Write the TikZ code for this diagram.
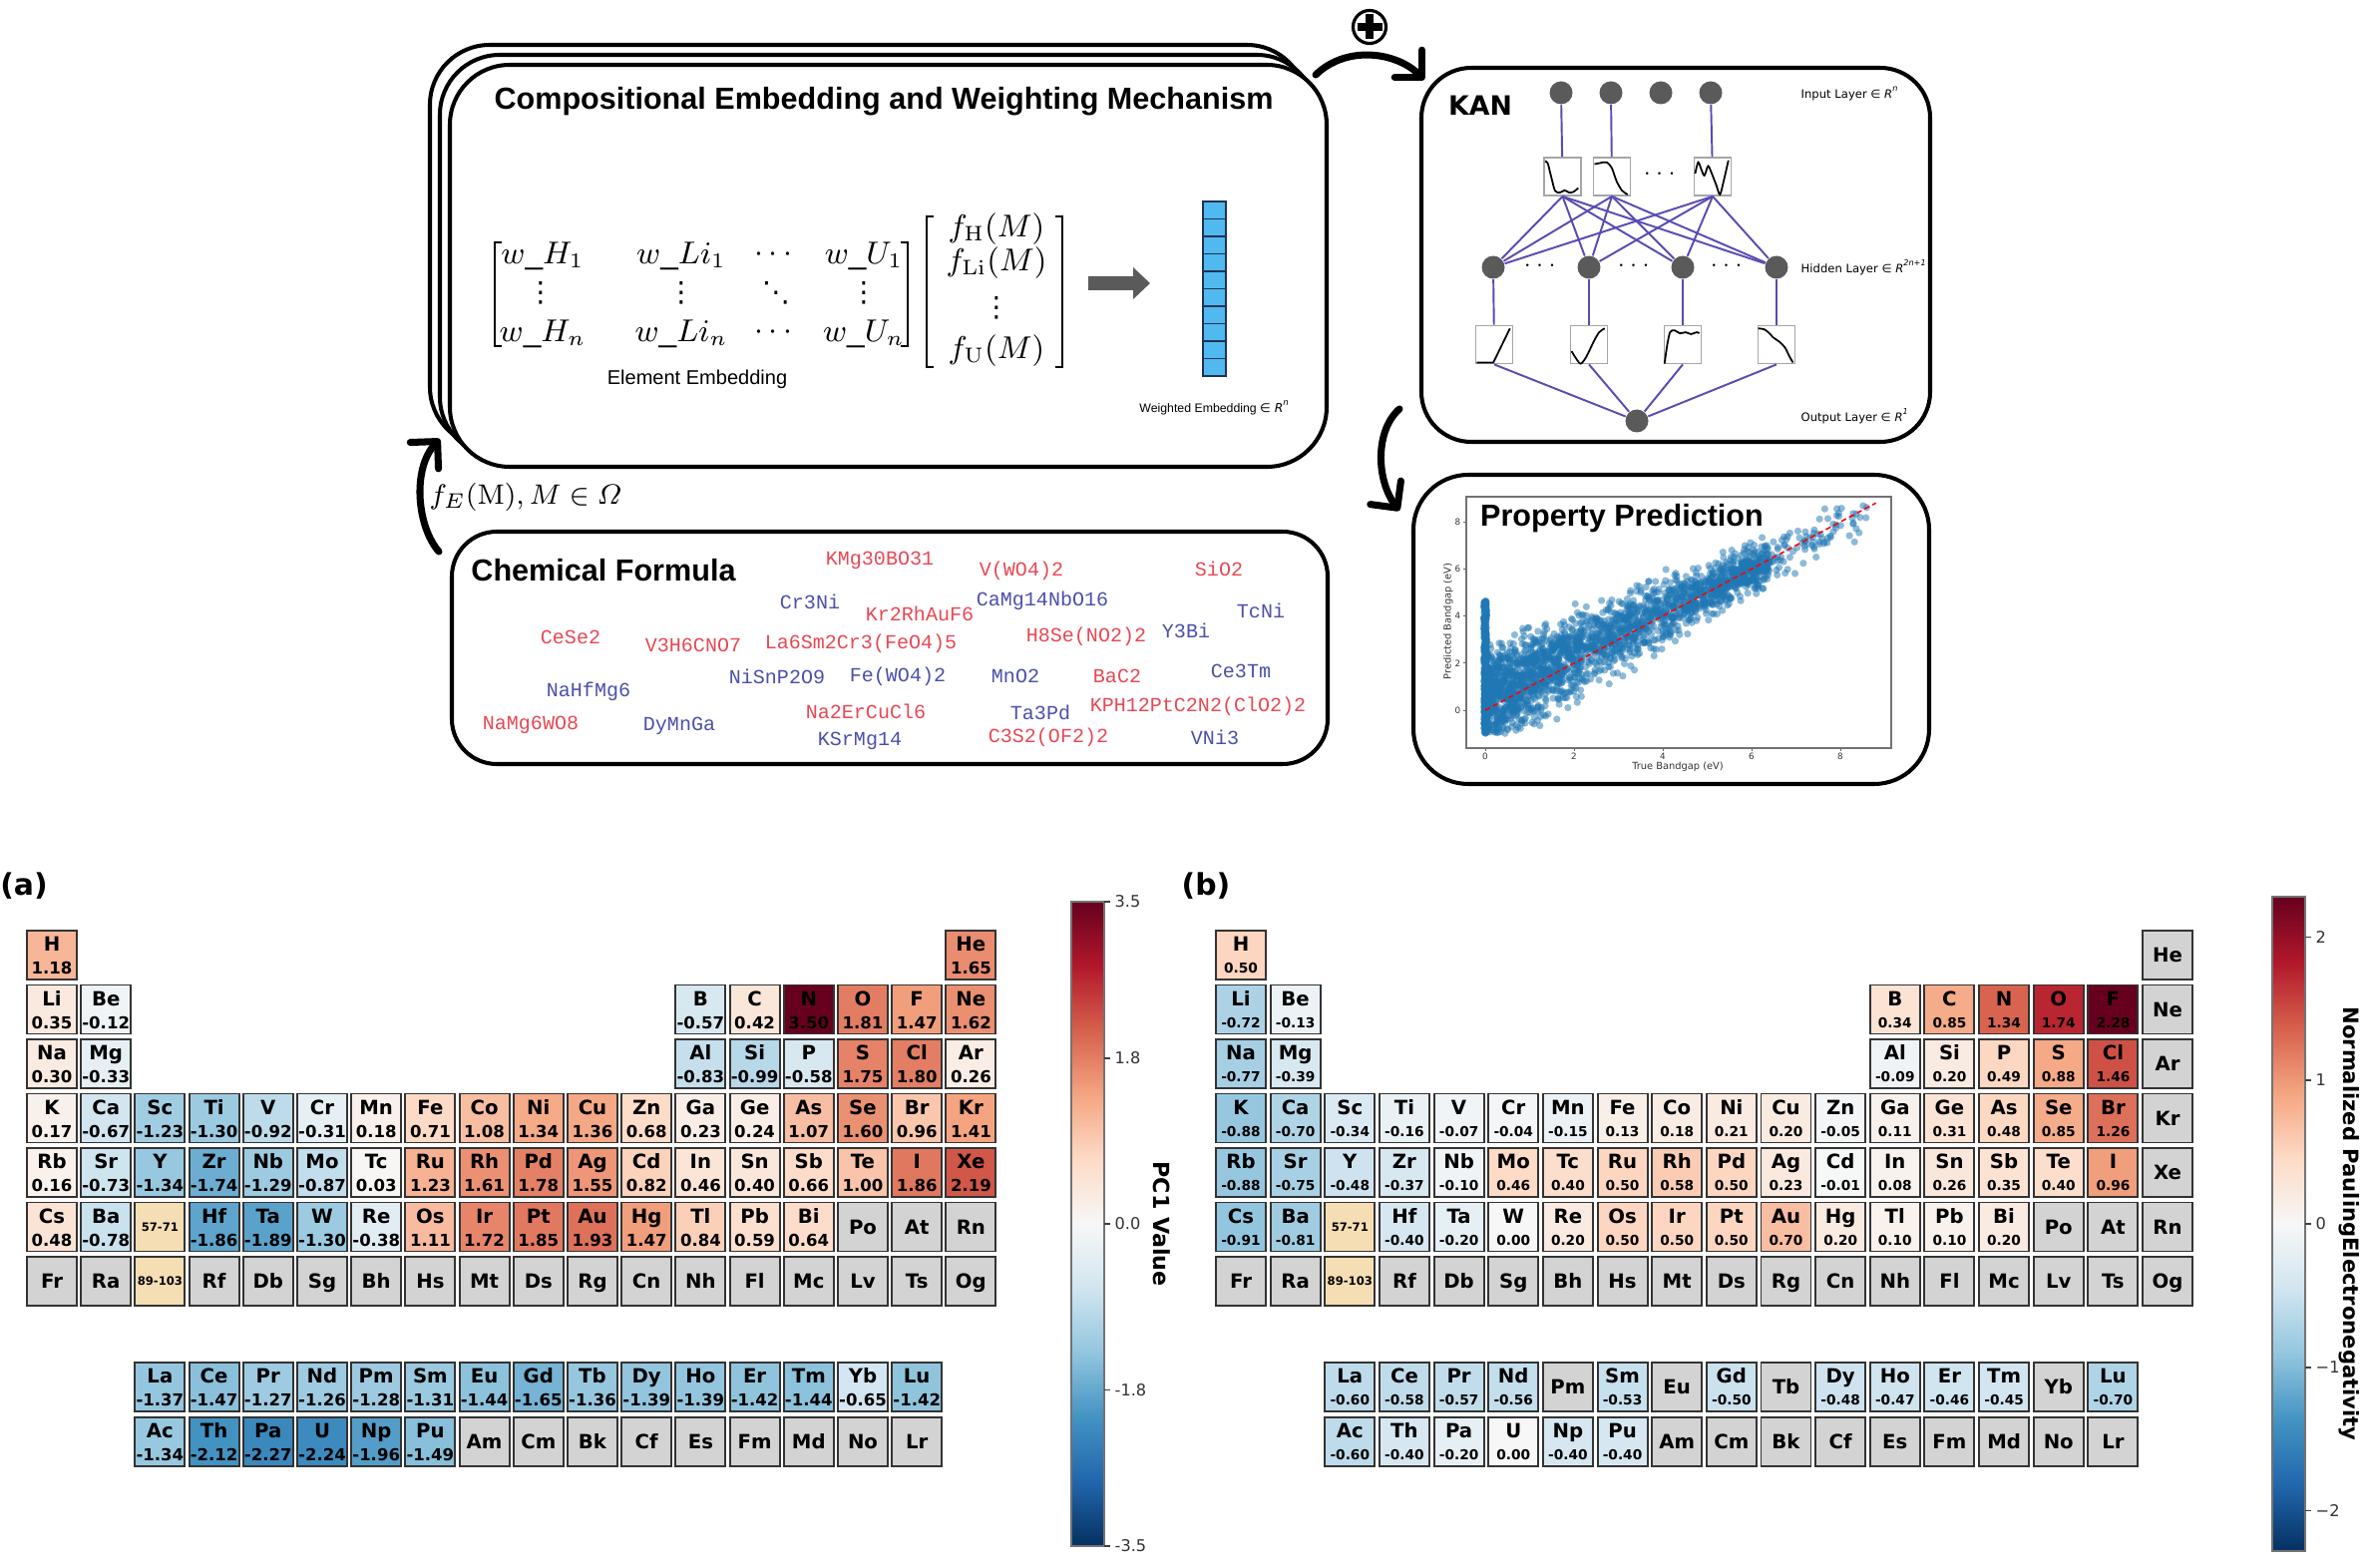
\documentclass[tikz,border=0pt]{standalone}
\usepackage{amsmath}
\usepackage[no-math]{fontspec}
\setmainfont{Liberation Sans}
\newfontfamily\dvs{DejaVu Sans}
\newfontfamily\lmono{Liberation Mono}
\usetikzlibrary{arrows.meta}

\definecolor{rb0}{HTML}{053061}
\definecolor{rb1}{HTML}{2166AC}
\definecolor{rb2}{HTML}{4393C3}
\definecolor{rb3}{HTML}{92C5DE}
\definecolor{rb4}{HTML}{D1E5F0}
\definecolor{rb5}{HTML}{F7F7F7}
\definecolor{rb6}{HTML}{FDDBC7}
\definecolor{rb7}{HTML}{F4A582}
\definecolor{rb8}{HTML}{D6604D}
\definecolor{rb9}{HTML}{B2182B}
\definecolor{rb10}{HTML}{67001F}
\definecolor{kanpurple}{RGB}{88,76,180}
\definecolor{kangray}{RGB}{90,90,90}
\definecolor{chemred}{RGB}{232,72,84}
\definecolor{chemblue}{RGB}{75,80,170}
\definecolor{vecblue}{RGB}{80,185,240}
\definecolor{vecedge}{RGB}{30,50,80}
\definecolor{arrowgray}{RGB}{90,90,90}
\definecolor{ptblue}{HTML}{1F77B4}
\definecolor{emptycell}{HTML}{D3D3D3}
\definecolor{wheatcell}{HTML}{F5DEB3}

\pgfdeclareverticalshading{rdbushade}{100bp}{color(0bp)=(rb0); color(25bp)=(rb0); color(30bp)=(rb1); color(35bp)=(rb2); color(40bp)=(rb3); color(45bp)=(rb4); color(50bp)=(rb5); color(55bp)=(rb6); color(60bp)=(rb7); color(65bp)=(rb8); color(70bp)=(rb9); color(75bp)=(rb10); color(100bp)=(rb10)}

\newcommand{\inR}[1]{{\dvs ∈ \textit{R}\textsuperscript{\textit{#1}}}}

\def\elcnone{n}
\def\elcskip{x}
\newcommand{\elc}[4]{%
 \edef\elcv{#4}%
 \ifx\elcv\elcskip\else
 \pgfmathsetmacro\ecx{\tabx+(#1-1)*\tabp+25}%
 \pgfmathsetmacro\ecy{ifthenelse(#2<8,933+(#2-1)*54.5,1366+(#2-8)*55)+24.5}%
 \ifx\elcv\elcnone
  \node[elcell, fill=emptycell] (\tabname-#3) at (\ecx,\ecy) {};
  \node[symtxt] (\tabname-#3-s) at (\ecx,\ecy+7) {#3};
 \else
  \pgfmathsetmacro\ect{max(0,min(9.9999,(\elcv+\tabv)/(2*\tabv)*10))}%
  \pgfmathtruncatemacro\eck{floor(\ect)}%
  \pgfmathtruncatemacro\ecn{\eck+1}%
  \pgfmathsetmacro\ecf{(\ect-\eck)*100}%
  \colorlet{cellc}{rb\ecn!\ecf!rb\eck}%
  \node[elcell, fill=cellc] (\tabname-#3) at (\ecx,\ecy) {};
  \node[symtxt] (\tabname-#3-s) at (\ecx,\ecy-4) {#3};
  \node[valtxt] (\tabname-#3-v) at (\ecx,\ecy+\valdy) {#4};
 \fi\fi}
\newcommand{\spc}[3]{%
 \pgfmathsetmacro\ecx{\tabx+(#1-1)*\tabp+25}%
 \pgfmathsetmacro\ecy{933+(#2-1)*54.5+24.5}%
 \node[elcell, fill=wheatcell] (\tabname-sp#2) at (\ecx,\ecy) {};
 \node[sptxt] (\tabname-sp#2-t) at (\ecx,\ecy) {#3};}

\tikzset{
 rbox/.style={draw=black, line width=1.15pt, fill=white, inner sep=0pt},
 boxtitle/.style={font=\bfseries\fontsize{8.7}{10}\selectfont, inner sep=0pt},
 mathent/.style={font=\fontsize{9}{10}\selectfont, inner sep=0pt},
 vdotent/.style={font=\dvs\fontsize{8}{9}\selectfont, inner sep=0pt},
 brk/.style={line width=0.55pt},
 veccell/.style={draw=vecedge, fill=vecblue, line width=0.4pt, minimum width=2.3mm, minimum height=1.75mm, inner sep=0pt},
 bigarrow/.style={line width=2pt, line cap=round, -{Straight Barb[length=5.5pt, width=11pt, round]}},
 knode/.style={circle, fill=kangray, minimum size=2.3mm, inner sep=0pt},
 kline/.style={draw=kanpurple, line width=0.55pt},
 fnbox/.style={draw=black!35, fill=white, line width=0.5pt, minimum width=3.7mm, minimum height=3.8mm, inner sep=0pt},
 fncurve/.style={line width=0.5pt, black},
 kdots/.style={font=\fontsize{6}{7}\selectfont, inner sep=0pt},
 layerlab/.style={font=\dvs\fontsize{3.3}{4}\selectfont, anchor=west, inner sep=0pt},
 chemr/.style={font=\lmono\fontsize{5.7}{6}\selectfont, inner sep=0pt, text=chemred},
 chemb/.style={font=\lmono\fontsize{5.7}{6}\selectfont, inner sep=0pt, text=chemblue},
 elcell/.style={draw=black!80, line width=0.55pt, minimum width=5mm, minimum height=4.9mm, inner sep=0pt},
 symtxt/.style={font=\dvs\bfseries\fontsize{5.6}{6}\selectfont, inner sep=0pt, anchor=base},
 valtxt/.style={font=\dvs\bfseries\fontsize{4.7}{5}\selectfont, inner sep=0pt, anchor=base},
 sptxt/.style={font=\dvs\bfseries\fontsize{3.3}{4}\selectfont, inner sep=0pt},
 cbar/.style={draw=black!55, line width=0.3pt, shading=rdbushade, shade, minimum width=3.3mm, inner sep=0pt},
 cbtick/.style={line width=0.35pt, black!75},
 cbtxt/.style={font=\dvs\fontsize{4.6}{5}\selectfont, text=black!80, anchor=west, inner sep=0pt},
 cblab/.style={font=\dvs\bfseries\fontsize{6.3}{7}\selectfont, inner sep=0pt, rotate=-90},
 panellab/.style={font=\dvs\bfseries\fontsize{8.5}{9}\selectfont, inner sep=0pt},
 axtxt/.style={font=\dvs\fontsize{2.5}{3}\selectfont, inner sep=0pt, text=black!80},
 spt/.style={ptblue, fill opacity=0.5},
}

\begin{document}
\begin{tikzpicture}[x=0.1mm, y=-0.1mm]
\useasboundingbox (0,0) rectangle (2378,1572);
\fill[white] (0,0) rectangle (2378,1572);

% ================= Compositional embedding box =================
\node[rbox, rounded corners=6mm, minimum width=87.9mm, minimum height=40.3mm] (comp3) at (870.5,246.5) {};
\node[rbox, rounded corners=6mm, minimum width=87.9mm, minimum height=40.3mm] (comp2) at (880.5,256.5) {};
\node[rbox, rounded corners=6mm, minimum width=87.9mm, minimum height=40.3mm] (comp) at (890.5,266.5) {};
\node[boxtitle] (comptitle) at (886,102) {Compositional Embedding and Weighting Mechanism};

\node[mathent] (m11) at (544,257) {$w\_H_1$};
\node[mathent] (m12) at (683,257) {$w\_Li_1$};
\node[mathent] (m13) at (778,255) {$\cdots$};
\node[mathent] (m14) at (866,257) {$w\_U_1$};
\node[vdotent] (m21) at (542,294) {⋮};
\node[vdotent] (m22) at (683,294) {⋮};
\node[vdotent] (m23) at (778,294) {⋱};
\node[vdotent] (m24) at (866,294) {⋮};
\node[mathent] (m31) at (544,335) {$w\_H_n$};
\node[mathent] (m32) at (683,335) {$w\_Li_n$};
\node[mathent] (m33) at (778,333) {$\cdots$};
\node[mathent] (m34) at (866,335) {$w\_U_n$};
\draw[brk] (503,243) -- (496,243) -- (496,347) -- (503,347);
\draw[brk] (903,243) -- (910,243) -- (910,347) -- (903,347);
\node[font=\fontsize{5.7}{6}\selectfont, inner sep=0pt] (elemlab) at (699,380) {Element Embedding};

\node[mathent, font=\fontsize{8.6}{10}\selectfont] (v1) at (999,230) {$f_{\mathrm{H}}(M)$};
\node[mathent, font=\fontsize{8.6}{10}\selectfont] (v2) at (999,264) {$f_{\mathrm{Li}}(M)$};
\node[vdotent] (v3) at (999,309) {⋮};
\node[mathent, font=\fontsize{8.6}{10}\selectfont] (v4) at (999,352) {$f_{\mathrm{U}}(M)$};
\draw[brk] (936,217) -- (929,217) -- (929,368) -- (936,368);
\draw[brk] (1058,217) -- (1065,217) -- (1065,368) -- (1058,368);

\fill[arrowgray] (1091,277) -- (1136,277) -- (1136,268) -- (1153,284) -- (1136,300) -- (1136,291) -- (1091,291) -- cycle;
\foreach \k in {0,...,9} \node[veccell] (vec\k) at (1217.5,210.75+17.5*\k) {};
\node[font=\fontsize{3.5}{4}\selectfont, inner sep=0pt] (wlab) at (1218,409) {Weighted Embedding \inR{n}};

% ================= arrows and oplus =================
\node[circle, draw, line width=0.9pt, minimum size=3.3mm, inner sep=0pt] (oplus) at (1373,27) {};
\draw[line width=2.3pt] ([xshift=-1.25mm]oplus.center) -- ([xshift=1.25mm]oplus.center);
\draw[line width=2.3pt] ([yshift=-1.25mm]oplus.center) -- ([yshift=1.25mm]oplus.center);
\coordinate (a1s) at (1319,75);
\coordinate (a1e) at (1428,80);
\draw[bigarrow] (a1s) .. controls (1350,45) and (1400,52) .. (a1e);
\coordinate (a2s) at (1403,410);
\coordinate (a2e) at (1403,512);
\draw[bigarrow] (a2s) .. controls (1378,432) and (1380,482) .. (a2e);
\coordinate (a3s) at (440,553);
\coordinate (a3e) at (441,440);
\draw[bigarrow] (a3s) .. controls (418,528) and (413,470) .. (a3e);
\node[font=\fontsize{8.4}{9}\selectfont, inner sep=0pt] (fe) at (527,498) {$f_E(\mathrm{M}), M \in \varOmega$};

% ================= KAN =================
\node[rbox, rounded corners=5mm, minimum width=51mm, minimum height=37.5mm] (kan) at (1680,255.5) {};
\node[font=\dvs\bfseries\fontsize{7.6}{8}\selectfont, inner sep=0pt] (kanlab) at (1484,106) {KAN};
\node[knode] (i1) at (1565,93) {};
\node[knode] (i2) at (1615,93) {};
\node[knode] (i3) at (1665,93) {};
\node[knode] (i4) at (1715,93) {};
\node[fnbox] (t1) at (1566.5,177) {};
\node[fnbox] (t2) at (1616,177) {};
\node[fnbox] (t4) at (1717,177) {};
\node[kdots] (tdots) at (1666,174) {$\cdots$};
\node[knode] (h1) at (1497,268) {};
\node[knode] (h2) at (1593,268) {};
\node[knode] (h3) at (1687,268) {};
\node[knode] (h4) at (1781,268) {};
\node[kdots] (hd1) at (1546,266) {$\cdots$};
\node[kdots] (hd2) at (1640,266) {$\cdots$};
\node[kdots] (hd3) at (1733,266) {$\cdots$};
\node[fnbox] (b1) at (1498,345.5) {};
\node[fnbox] (b2) at (1593,345.5) {};
\node[fnbox] (b3) at (1687,345.5) {};
\node[fnbox] (b4) at (1781,345.5) {};
\node[knode] (o) at (1641,422) {};
\draw[kline] (i1) -- (t1);
\draw[kline] (i2) -- (t2);
\draw[kline] (i4) -- (t4);
\foreach \t in {t1,t2,t4} \foreach \h in {h1,h2,h3,h4} \draw[kline] (\t.south) -- (\h);
\foreach \k in {1,...,4} \draw[kline] (h\k) -- (b\k);
\foreach \k in {1,...,4} \draw[kline] (b\k.south) -- (o);
\begin{scope}[shift={(t1.south west)}, x=3.7mm, y=3.8mm]
\draw[fncurve] plot[smooth] coordinates {(0.05,0.92) (0.12,0.88) (0.22,0.5) (0.32,0.15) (0.45,0.1) (0.58,0.16) (0.7,0.1) (0.82,0.12) (0.95,0.22)};
\end{scope}
\begin{scope}[shift={(t2.south west)}, x=3.7mm, y=3.8mm]
\draw[fncurve] plot[smooth] coordinates {(0.05,0.85) (0.2,0.88) (0.38,0.9) (0.52,0.75) (0.65,0.4) (0.8,0.15) (0.95,0.05)};
\end{scope}
\begin{scope}[shift={(t4.south west)}, x=3.7mm, y=3.8mm]
\draw[fncurve] plot[smooth] coordinates {(0.05,0.6) (0.13,0.9) (0.22,0.7) (0.3,0.55) (0.4,0.8) (0.5,0.6) (0.62,0.3) (0.72,0.05) (0.82,0.4) (0.95,0.95)};
\end{scope}
\begin{scope}[shift={(b1.south west)}, x=3.7mm, y=3.8mm]
\draw[fncurve] (0.05,0.05) -- (0.5,0.05) -- (0.95,0.95);
\end{scope}
\begin{scope}[shift={(b2.south west)}, x=3.7mm, y=3.8mm]
\draw[fncurve] plot[smooth] coordinates {(0.05,0.35) (0.18,0.15) (0.3,0.02) (0.45,0.2) (0.65,0.6) (0.8,0.85) (0.95,0.95)};
\end{scope}
\begin{scope}[shift={(b3.south west)}, x=3.7mm, y=3.8mm]
\draw[fncurve] plot[smooth] coordinates {(0.03,0.02) (0.1,0.5) (0.18,0.85) (0.3,0.9) (0.45,0.82) (0.6,0.85) (0.75,0.8) (0.9,0.85) (0.97,0.82)};
\end{scope}
\begin{scope}[shift={(b4.south west)}, x=3.7mm, y=3.8mm]
\draw[fncurve] plot[smooth] coordinates {(0.03,0.95) (0.18,0.93) (0.3,0.85) (0.45,0.7) (0.6,0.6) (0.75,0.45) (0.88,0.2) (0.97,0.05)};
\end{scope}
\node[layerlab] (inlab) at (1805,94) {Input Layer \inR{n}};
\node[layerlab] (hidlab) at (1805,268) {Hidden Layer \inR{2n+1}};
\node[layerlab] (outlab) at (1805,417) {Output Layer \inR{1}};

% ================= Property prediction =================
\node[rbox, rounded corners=5.5mm, minimum width=51.7mm, minimum height=31mm] (prop) at (1675.5,631) {};
\begin{scope}
\clip (1470,498) rectangle (1896,750);
\begin{scope}[shift={(1489,712)}, x=4.45mm, y=2.36mm]
\pgfmathsetseed{12}
\foreach \i in {1,...,2200}{%
 \pgfmathsetmacro\xx{6.4*pow(rnd,1.5)}%
 \pgfmathsetmacro\yy{max(-1+0.3*rnd,0.45+0.92*\xx+(1.0-0.09*\xx)*(rand+rand+rand))}%
 \fill[spt] (\xx,\yy) circle[radius=0.36mm];}
\foreach \i in {1,...,150}{%
 \pgfmathsetmacro\xx{5+3.6*rnd}%
 \pgfmathsetmacro\yy{\xx-0.1+0.45*(rand+rand+rand)}%
 \fill[spt] (\xx,\yy) circle[radius=0.36mm];}
\foreach \i in {1,...,400}{%
 \pgfmathsetmacro\yy{-0.95+5.6*rnd}%
 \pgfmathsetmacro\xj{0.03*rand}%
 \fill[spt] (\xj,\yy) circle[radius=0.36mm];}
\draw[red, line width=0.45pt, dash pattern=on 1.5pt off 1pt] (0,0) -- (8.8,8.8);
\end{scope}
\end{scope}
\draw[black!55, line width=0.3pt] (1470,498) rectangle (1896,750);
\foreach \v/\px [count=\k] in {0/1489,2/1578,4/1667,6/1756,8/1845}{%
 \draw[black!60, line width=0.25pt] (\px,750) -- (\px,753);
 \node[axtxt] (xt\k) at (\px,758) {\v};}
\foreach \v/\py [count=\k] in {0/712,2/664.8,4/617.6,6/570.4,8/523.2}{%
 \draw[black!60, line width=0.25pt] (1467,\py) -- (1470,\py);
 \node[axtxt, anchor=east] (yt\k) at (1465,\py) {\v};}
\node[axtxt, font=\dvs\fontsize{2.8}{3}\selectfont] (xlab) at (1682,769) {True Bandgap (eV)};
\node[axtxt, font=\dvs\fontsize{2.8}{3}\selectfont, rotate=90] (ylab) at (1452,623) {Predicted Bandgap (eV)};
\node[boxtitle] (ptitle) at (1626,520) {Property Prediction};

% ================= Chemical formula =================
\node[rbox, rounded corners=4.5mm, minimum width=87.8mm, minimum height=23.3mm] (chem) at (892,649.5) {};
\node[boxtitle] (chemtitle) at (605,572) {Chemical Formula};
\node[chemr] (f1) at (882,562) {KMg30BO31};
\node[chemr] (f2) at (1024,572) {V(WO4)2};
\node[chemr] (f3) at (1222,570) {SiO2};
\node[chemb] (f4) at (812,603) {Cr3Ni};
\node[chemb] (f5) at (1045,602) {CaMg14NbO16};
\node[chemr] (f6) at (922,615) {Kr2RhAuF6};
\node[chemb] (f7) at (1264,612) {TcNi};
\node[chemr] (f8) at (572,639) {CeSe2};
\node[chemr] (f9) at (695,647) {V3H6CNO7};
\node[chemr] (f10) at (863,645) {La6Sm2Cr3(FeO4)5};
\node[chemr] (f11) at (1089,638) {H8Se(NO2)2};
\node[chemb] (f12) at (1189,632) {Y3Bi};
\node[chemb] (f13) at (779,678) {NiSnP2O9};
\node[chemb] (f14) at (900,678) {Fe(WO4)2};
\node[chemb] (f15) at (1018,678) {MnO2};
\node[chemr] (f16) at (1120,678) {BaC2};
\node[chemb] (f17) at (1244,673) {Ce3Tm};
\node[chemb] (f18) at (590,693) {NaHfMg6};
\node[chemr] (f19) at (868,713) {Na2ErCuCl6};
\node[chemb] (f20) at (1043,714) {Ta3Pd};
\node[chemr] (f21) at (1201,708) {KPH12PtC2N2(ClO2)2};
\node[chemr] (f22) at (532,727) {NaMg6WO8};
\node[chemb] (f23) at (681,728) {DyMnGa};
\node[chemb] (f24) at (862,743) {KSrMg14};
\node[chemr] (f25) at (1051,739) {C3S2(OF2)2};
\node[chemb] (f26) at (1218,739) {VNi3};

% ================= Periodic table (a) =================
\node[panellab] (pa) at (24,888) {(a)};
\def\tabname{a}\def\tabx{27}\def\tabp{54.2}\def\tabv{3.5}\def\valdy{19}
\elc{1}{1}{H}{1.18}\elc{18}{1}{He}{1.65}
\foreach \s/\v [count=\c] in {Li/0.35,Be/-0.12}{\elc{\c}{2}{\s}{\v}}
\foreach \s/\v [count=\c from 13] in {B/-0.57,C/0.42,N/3.50,O/1.81,F/1.47,Ne/1.62}{\elc{\c}{2}{\s}{\v}}
\foreach \s/\v [count=\c] in {Na/0.30,Mg/-0.33}{\elc{\c}{3}{\s}{\v}}
\foreach \s/\v [count=\c from 13] in {Al/-0.83,Si/-0.99,P/-0.58,S/1.75,Cl/1.80,Ar/0.26}{\elc{\c}{3}{\s}{\v}}
\foreach \s/\v [count=\c] in {K/0.17,Ca/-0.67,Sc/-1.23,Ti/-1.30,V/-0.92,Cr/-0.31,Mn/0.18,Fe/0.71,Co/1.08,Ni/1.34,Cu/1.36,Zn/0.68,Ga/0.23,Ge/0.24,As/1.07,Se/1.60,Br/0.96,Kr/1.41}{\elc{\c}{4}{\s}{\v}}
\foreach \s/\v [count=\c] in {Rb/0.16,Sr/-0.73,Y/-1.34,Zr/-1.74,Nb/-1.29,Mo/-0.87,Tc/0.03,Ru/1.23,Rh/1.61,Pd/1.78,Ag/1.55,Cd/0.82,In/0.46,Sn/0.40,Sb/0.66,Te/1.00,I/1.86,Xe/2.19}{\elc{\c}{5}{\s}{\v}}
\foreach \s/\v [count=\c] in {Cs/0.48,Ba/-0.78,sp/x,Hf/-1.86,Ta/-1.89,W/-1.30,Re/-0.38,Os/1.11,Ir/1.72,Pt/1.85,Au/1.93,Hg/1.47,Tl/0.84,Pb/0.59,Bi/0.64,Po/n,At/n,Rn/n}{\elc{\c}{6}{\s}{\v}}
\foreach \s/\v [count=\c] in {Fr/n,Ra/n,sp/x,Rf/n,Db/n,Sg/n,Bh/n,Hs/n,Mt/n,Ds/n,Rg/n,Cn/n,Nh/n,Fl/n,Mc/n,Lv/n,Ts/n,Og/n}{\elc{\c}{7}{\s}{\v}}
\foreach \s/\v [count=\c from 3] in {La/-1.37,Ce/-1.47,Pr/-1.27,Nd/-1.26,Pm/-1.28,Sm/-1.31,Eu/-1.44,Gd/-1.65,Tb/-1.36,Dy/-1.39,Ho/-1.39,Er/-1.42,Tm/-1.44,Yb/-0.65,Lu/-1.42}{\elc{\c}{8}{\s}{\v}}
\foreach \s/\v [count=\c from 3] in {Ac/-1.34,Th/-2.12,Pa/-2.27,U/-2.24,Np/-1.96,Pu/-1.49,Am/n,Cm/n,Bk/n,Cf/n,Es/n,Fm/n,Md/n,No/n,Lr/n}{\elc{\c}{9}{\s}{\v}}
\spc{3}{6}{57-71}\spc{3}{7}{89-103}

\node[cbar, minimum height=64.6mm] (cba) at (1090.5,1227) {};
\foreach \v/\l [count=\k] in {3.5/3.5,1.8/1.8,0/0.0,-1.8/-1.8,-3.5/-3.5}{%
 \pgfmathsetmacro\ty{1227-(\v)/3.5*323}%
 \draw[cbtick] (1107,\ty) -- (1113,\ty);
 \node[cbtxt] (cba-l\k) at (1117,\ty) {\l};}
\node[cblab] (cba-lab) at (1165,1227) {PC1 Value};

% ================= Periodic table (b) =================
\node[panellab] (pb) at (1209,888) {(b)};
\def\tabname{b}\def\tabx{1219}\def\tabp{54.65}\def\tabv{2.28}\def\valdy{18}
\tikzset{valtxt/.style={font=\dvs\bfseries\fontsize{3.9}{4}\selectfont, inner sep=0pt, anchor=base}}
\elc{1}{1}{H}{0.50}\elc{18}{1}{He}{n}
\foreach \s/\v [count=\c] in {Li/-0.72,Be/-0.13}{\elc{\c}{2}{\s}{\v}}
\foreach \s/\v [count=\c from 13] in {B/0.34,C/0.85,N/1.34,O/1.74,F/2.28,Ne/n}{\elc{\c}{2}{\s}{\v}}
\foreach \s/\v [count=\c] in {Na/-0.77,Mg/-0.39}{\elc{\c}{3}{\s}{\v}}
\foreach \s/\v [count=\c from 13] in {Al/-0.09,Si/0.20,P/0.49,S/0.88,Cl/1.46,Ar/n}{\elc{\c}{3}{\s}{\v}}
\foreach \s/\v [count=\c] in {K/-0.88,Ca/-0.70,Sc/-0.34,Ti/-0.16,V/-0.07,Cr/-0.04,Mn/-0.15,Fe/0.13,Co/0.18,Ni/0.21,Cu/0.20,Zn/-0.05,Ga/0.11,Ge/0.31,As/0.48,Se/0.85,Br/1.26,Kr/n}{\elc{\c}{4}{\s}{\v}}
\foreach \s/\v [count=\c] in {Rb/-0.88,Sr/-0.75,Y/-0.48,Zr/-0.37,Nb/-0.10,Mo/0.46,Tc/0.40,Ru/0.50,Rh/0.58,Pd/0.50,Ag/0.23,Cd/-0.01,In/0.08,Sn/0.26,Sb/0.35,Te/0.40,I/0.96,Xe/n}{\elc{\c}{5}{\s}{\v}}
\foreach \s/\v [count=\c] in {Cs/-0.91,Ba/-0.81,sp/x,Hf/-0.40,Ta/-0.20,W/0.00,Re/0.20,Os/0.50,Ir/0.50,Pt/0.50,Au/0.70,Hg/0.20,Tl/0.10,Pb/0.10,Bi/0.20,Po/n,At/n,Rn/n}{\elc{\c}{6}{\s}{\v}}
\foreach \s/\v [count=\c] in {Fr/n,Ra/n,sp/x,Rf/n,Db/n,Sg/n,Bh/n,Hs/n,Mt/n,Ds/n,Rg/n,Cn/n,Nh/n,Fl/n,Mc/n,Lv/n,Ts/n,Og/n}{\elc{\c}{7}{\s}{\v}}
\foreach \s/\v [count=\c from 3] in {La/-0.60,Ce/-0.58,Pr/-0.57,Nd/-0.56,Pm/n,Sm/-0.53,Eu/n,Gd/-0.50,Tb/n,Dy/-0.48,Ho/-0.47,Er/-0.46,Tm/-0.45,Yb/n,Lu/-0.70}{\elc{\c}{8}{\s}{\v}}
\foreach \s/\v [count=\c from 3] in {Ac/-0.60,Th/-0.40,Pa/-0.20,U/0.00,Np/-0.40,Pu/-0.40,Am/n,Cm/n,Bk/n,Cf/n,Es/n,Fm/n,Md/n,No/n,Lr/n}{\elc{\c}{9}{\s}{\v}}
\spc{3}{6}{57-71}\spc{3}{7}{89-103}

\node[cbar, minimum height=65.6mm] (cbb) at (2294.5,1227) {};
\foreach \v/\l [count=\k] in {2/2,1/1,0/0,-1/−1,-2/−2}{%
 \pgfmathsetmacro\ty{1227-(\v)*143.9}%
 \draw[cbtick] (2311,\ty) -- (2317,\ty);
 \node[cbtxt] (cbb-l\k) at (2321,\ty) {\l};}
\node[cblab, font=\dvs\bfseries\fontsize{6}{7}\selectfont] (cbb-lab) at (2355,1227) {Normalized PaulingElectronegativity};
\end{tikzpicture}
\end{document}
